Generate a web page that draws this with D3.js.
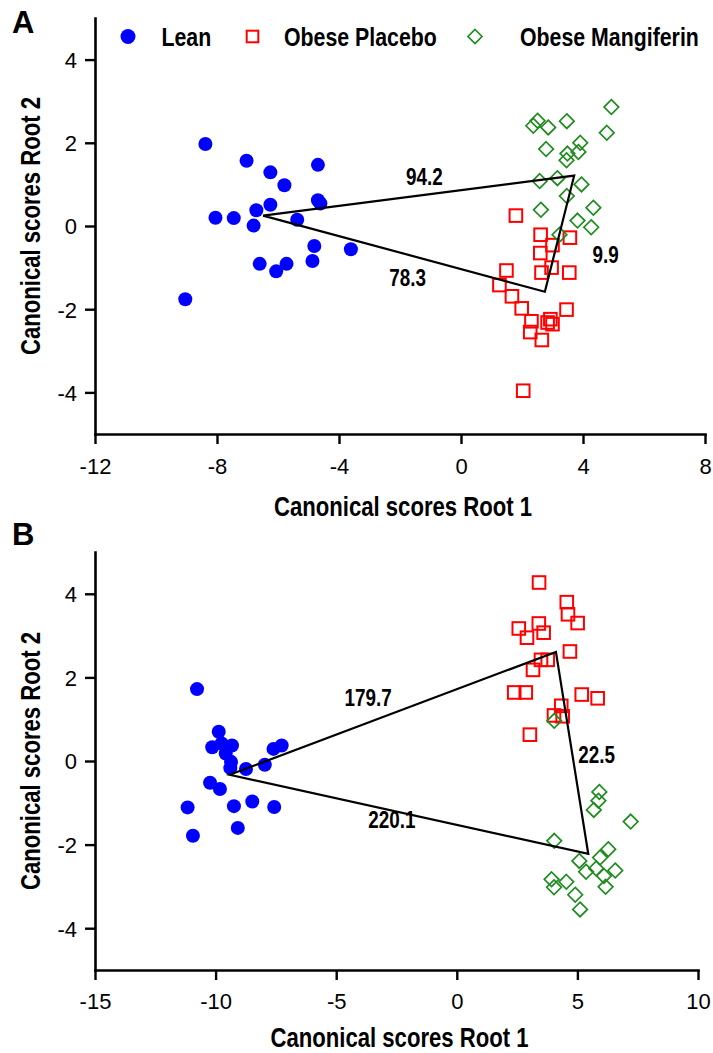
<!DOCTYPE html>
<html>
<head>
<meta charset="utf-8">
<script src="https://cdn.jsdelivr.net/npm/d3@7"></script>
<style>
  body { margin: 0; background: #fff; }
</style>
</head>
<body>
<svg id="chart" width="713" height="1053"></svg>
<script>
// ---- panel A values (canonical scores, [root1, root2]) ----
const leanA = [[-8.38,1.97],[-7.03,1.57],[-6.25,1.29],[-5.79,0.98],[-4.69,1.47],[-4.69,0.62],[-4.61,0.54],
  [-6.25,0.51],[-6.71,0.38],[-8.05,0.20],[-7.45,0.19],[-6.80,0.01],[-5.37,0.15],[-4.81,-0.48],[-3.61,-0.56],
  [-4.87,-0.84],[-6.60,-0.91],[-5.72,-0.91],[-6.06,-1.09],[-9.04,-1.76]];
const placeboA = [[1.80,0.25],[2.61,-0.21],[3.57,-0.28],[3.00,-0.46],[2.60,-0.65],[2.97,-1.00],[2.64,-1.12],
  [3.55,-1.12],[1.49,-1.07],[1.26,-1.42],[1.67,-1.69],[1.99,-1.98],[3.46,-2.01],[2.31,-2.29],[2.93,-2.24],
  [2.84,-2.32],[3.00,-2.36],[2.27,-2.55],[2.65,-2.74],[2.04,-3.96]];
const mangiferinA = [[4.93,2.86],[4.78,2.24],[2.51,2.53],[2.37,2.41],[2.86,2.37],[3.47,2.52],[2.79,1.85],
  [3.91,2.00],[3.85,1.78],[3.49,1.74],[3.46,1.58],[2.58,1.08],[3.16,1.15],[3.95,1.00],[3.47,0.72],
  [2.62,0.39],[4.34,0.44],[3.82,0.13],[4.27,-0.03],[3.23,-0.21]];
// group centroids: lean, mangiferin, placebo
const centroidsA = [[-6.49,0.25],[3.71,1.21],[2.75,-1.58]];
// squared Mahalanobis distances and where they sit
const distLabelsA = ["94.2", "78.3", "9.9"];
const distPosA = [[-1.20,1.17],[-1.75,-1.24],[4.74,-0.69]];

// ---- panel B values ----
const leanB = [[-10.77,1.72],[-9.87,0.70],[-10.14,0.33],[-9.75,0.42],[-9.32,0.37],[-9.58,0.18],[-9.36,-0.02],
  [-9.39,-0.17],[-8.74,-0.19],[-7.96,-0.09],[-7.60,0.29],[-7.26,0.37],[-10.23,-0.52],[-9.82,-0.67],
  [-11.16,-1.11],[-9.24,-1.08],[-8.48,-0.97],[-7.57,-1.10],[-9.08,-1.60],[-10.94,-1.79]];
const placeboB = [[3.41,4.27],[4.56,3.80],[4.61,3.51],[5.01,3.30],[2.57,3.17],[3.40,3.29],[3.60,3.07],
  [2.91,2.95],[4.69,2.62],[3.49,2.42],[3.77,2.42],[3.16,2.18],[2.38,1.64],[2.86,1.64],[5.18,1.59],
  [5.84,1.50],[4.33,1.32],[4.03,1.09],[4.39,1.07],[3.03,0.63]];
const mangiferinB = [[4.04,0.96],[5.91,-0.74],[5.87,-0.95],[5.68,-1.17],[7.21,-1.45],[4.04,-1.91],[6.28,-2.11],
  [5.94,-2.31],[5.08,-2.39],[5.36,-2.65],[5.78,-2.57],[6.57,-2.62],[6.10,-2.75],[3.93,-2.83],[4.54,-2.89],
  [4.03,-3.02],[6.17,-3.01],[4.91,-3.20],[5.11,-3.55]];
const centroidsB = [[-9.42,-0.33],[4.11,2.61],[5.45,-2.22]];
const distLabelsB = ["179.7", "220.1", "22.5"];
const distPosB = [[-3.68,1.51],[-2.69,-1.41],[5.80,0.14]];

// ---- axes ----
const xTicksA = [-12, -8, -4, 0, 4, 8];
const xTicksB = [-15, -10, -5, 0, 5, 10];
const yTicks = [-4, -2, 0, 2, 4];

const legendNames = ["Lean", "Obese Placebo", "Obese Mangiferin"];

const svg = d3.select("#chart");
svg.append("rect").attr("width", 713).attr("height", 1053).attr("fill", "#fff");

// no Arial Narrow here, so squeeze Liberation Sans Bold the same way
const boldFont = "'Liberation Sans', Arial, sans-serif";
const tickFont = "'Liberation Sans', Arial, sans-serif";
const NARROW = 0.82;
const BLUE = "#0000ff", RED = "#ff0000", GREEN = "#1e8c1e";

function hyphen(d) { return String(d).replace("\u2212", "-"); }

function narrowText(parent, x, y, str, size, anchor, rot) {
  return parent.append("text")
    .attr("transform", `translate(${x},${y}) rotate(${rot || 0}) scale(${NARROW},1)`)
    .attr("text-anchor", anchor || "start")
    .style("font-family", boldFont).style("font-weight", "bold").style("font-size", size + "px")
    .attr("fill", "#000")
    .text(str);
}

function drawPanel(p) {
  const x = d3.scaleLinear().domain(p.xDomain).range([p.left, p.right]);
  const y = d3.scaleLinear().domain([-5, 5]).range([p.bottom, p.top]);
  const g = svg.append("g");

  // x axis
  const xa = g.append("g").attr("transform", `translate(0,${p.bottom})`)
    .call(d3.axisBottom(x).tickValues(p.xTicks).tickSize(10).tickSizeOuter(0).tickFormat(hyphen));
  // y axis
  const ya = g.append("g").attr("transform", `translate(${p.left},0)`)
    .call(d3.axisLeft(y).tickValues(yTicks).tickSize(10).tickSizeOuter(0).tickFormat(hyphen));

  [xa, ya].forEach(a => {
    a.select(".domain").attr("stroke", "#000").attr("stroke-width", 2.6).attr("stroke-linecap", "square");
    a.selectAll(".tick line").attr("stroke", "#000").attr("stroke-width", 2.4);
    a.selectAll("text").attr("fill", "#000").style("font-family", tickFont).style("font-size", "22px");
  });
  xa.selectAll("text").attr("y", p.tickBase).attr("dy", null);
  ya.selectAll("text").attr("x", -18).attr("dy", "0.36em");

  // axis titles
  narrowText(g, (p.left + p.right) / 2 + 3, p.titleBase, "Canonical scores Root 1", 27, "middle");
  narrowText(g, 40, (p.top + p.bottom) / 2, "Canonical scores Root 2", 27, "middle", -90);

  // panel letter
  g.append("text").attr("x", 12).attr("y", p.letterBase)
    .style("font-family", boldFont).style("font-weight", "bold")
    .style("font-size", "31px").text(p.letter);

  // points
  g.selectAll(".lean").data(p.lean).join("circle")
    .attr("cx", d => x(d[0])).attr("cy", d => y(d[1])).attr("r", 7).attr("fill", BLUE);
  g.selectAll(".placebo").data(p.placebo).join("rect")
    .attr("x", d => x(d[0]) - 6.3).attr("y", d => y(d[1]) - 6.3)
    .attr("width", 12.6).attr("height", 12.6)
    .attr("fill", "none").attr("stroke", RED).attr("stroke-width", 2);
  g.selectAll(".mang").data(p.mang).join("path")
    .attr("d", d => {
      const cx = x(d[0]), cy = y(d[1]), h = 7.3;
      return `M${cx},${cy - h}L${cx + h},${cy}L${cx},${cy + h}L${cx - h},${cy}Z`;
    })
    .attr("fill", "none").attr("stroke", GREEN).attr("stroke-width", 1.7);

  // distance triangle between centroids
  g.append("path")
    .attr("d", d3.line().x(d => x(d[0])).y(d => y(d[1]))(p.centroids) + "Z")
    .attr("fill", "none").attr("stroke", "#000").attr("stroke-width", 2.2)
    .attr("stroke-linejoin", "miter");

  p.distLabels.forEach((d, i) => {
    narrowText(g, x(p.distPos[i][0]), y(p.distPos[i][1]) + 8, d, 23, "middle");
  });
}

drawPanel({
  letter: "A", letterBase: 33, top: 18, bottom: 434, left: 95, right: 705,
  xDomain: [-12, 8], xTicks: xTicksA, tickBase: 40, titleBase: 516,
  lean: leanA, placebo: placeboA, mang: mangiferinA,
  centroids: centroidsA, distLabels: distLabelsA, distPos: distPosA
});
drawPanel({
  letter: "B", letterBase: 545, top: 552, bottom: 970, left: 95, right: 698,
  xDomain: [-15, 10], xTicks: xTicksB, tickBase: 39, titleBase: 1047,
  lean: leanB, placebo: placeboB, mang: mangiferinB,
  centroids: centroidsB, distLabels: distLabelsB, distPos: distPosB
});

// legend (panel A only)
const legX = [128, 252.5, 475];
const legTextX = [161.5, 284, 520];
const legY = 36.5;
const leg = svg.append("g");
leg.append("circle").attr("cx", legX[0]).attr("cy", legY).attr("r", 7.5).attr("fill", BLUE);
leg.append("rect").attr("x", legX[1] - 5.8).attr("y", legY - 5.8).attr("width", 11.6).attr("height", 11.6)
  .attr("fill", "none").attr("stroke", RED).attr("stroke-width", 2);
leg.append("path")
  .attr("d", `M${legX[2]},${legY - 7}L${legX[2] + 7},${legY}L${legX[2]},${legY + 7}L${legX[2] - 7},${legY}Z`)
  .attr("fill", "none").attr("stroke", GREEN).attr("stroke-width", 1.7);
legendNames.forEach((d, i) => narrowText(leg, legTextX[i], legY + 9, d, 26, "start"));
</script>
</body>
</html>
